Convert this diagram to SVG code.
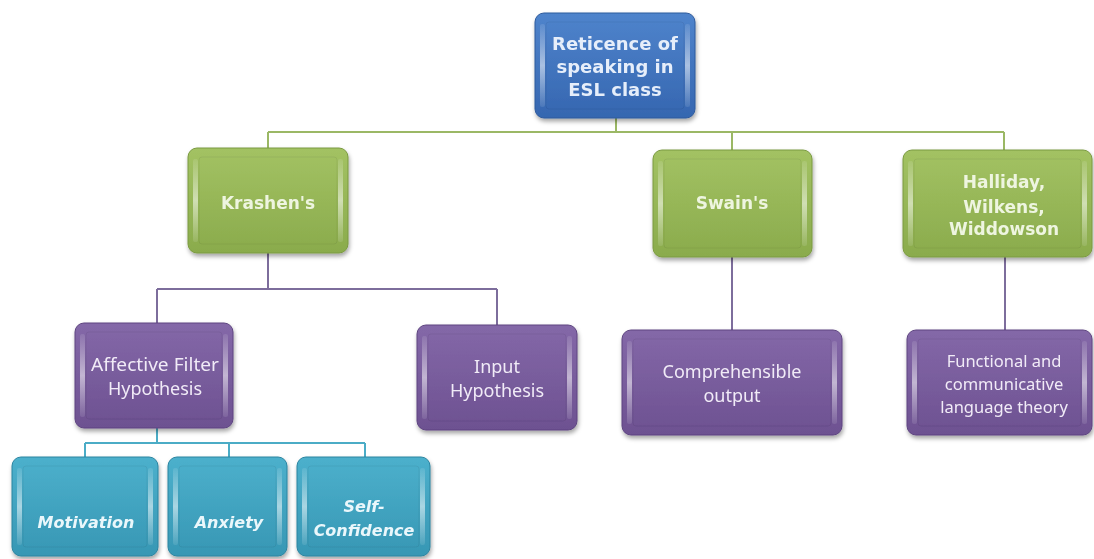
<svg xmlns="http://www.w3.org/2000/svg" width="1094" height="559" viewBox="0 0 1094 559">
<defs>
<linearGradient id="gBlue" x1="0" y1="0" x2="0" y2="1"><stop offset="0" stop-color="#4f84cc"/><stop offset="1" stop-color="#3566b0"/></linearGradient>
<linearGradient id="gGreen" x1="0" y1="0" x2="0" y2="1"><stop offset="0" stop-color="#a3c263"/><stop offset="1" stop-color="#8aab4c"/></linearGradient>
<linearGradient id="gPurple" x1="0" y1="0" x2="0" y2="1"><stop offset="0" stop-color="#8468a8"/><stop offset="1" stop-color="#6d5191"/></linearGradient>
<linearGradient id="gCyan" x1="0" y1="0" x2="0" y2="1"><stop offset="0" stop-color="#4cb0cc"/><stop offset="1" stop-color="#3797b4"/></linearGradient>
<linearGradient id="hl" x1="0" y1="0" x2="0" y2="1"><stop offset="0" stop-color="#fff" stop-opacity="0.1"/><stop offset="0.5" stop-color="#fff" stop-opacity="0.55"/><stop offset="1" stop-color="#fff" stop-opacity="0.1"/></linearGradient>
<filter id="sh" x="-10%" y="-10%" width="120%" height="130%"><feDropShadow dx="1" dy="3" stdDeviation="2" flood-color="#000" flood-opacity="0.35"/></filter>
<style>
.box{filter:url(#sh);}
.blue{fill:url(#gBlue);stroke:#2e5a9c;stroke-width:1}
.green{fill:url(#gGreen);stroke:#7a9a40;stroke-width:1}
.purple{fill:url(#gPurple);stroke:#5e4580;stroke-width:1}
.cyan{fill:url(#gCyan);stroke:#2b84a0;stroke-width:1}
.bev{fill:url(#hl)}
.inner{fill:none;stroke:#000;stroke-opacity:0.06;stroke-width:1}
.head{font-family:"DejaVu Sans",sans-serif;font-weight:bold;font-size:17px;fill:#eef5e0;text-anchor:middle}
.headb{font-family:"DejaVu Sans",sans-serif;font-weight:bold;font-size:18px;fill:#e6eefa;text-anchor:middle}
.sub{font-family:"Noto Sans",sans-serif;font-size:18px;fill:#f1ebf7;text-anchor:middle}
.sm{font-size:16.5px}
.it{font-family:"DejaVu Sans",sans-serif;font-weight:bold;font-style:italic;font-size:16px;fill:#eaf7fb;text-anchor:middle}
.cg{stroke:#9bb865;stroke-width:2;fill:none}
.cp{stroke:#7d6d9c;stroke-width:2;fill:none}
.cc{stroke:#4bacc6;stroke-width:2;fill:none}
</style>
</defs>
<rect width="1094" height="559" fill="#ffffff"/>
<g id="connectors">
<path class="cg" d="M616 118V132M268 132H1004M268 132V148M732 132V150M1004 132V150"/>
<path class="cp" d="M268 253V289M157 289H497M157 289V323M497 289V325M732 257V330M1005 257V330"/>
<path class="cc" d="M157 428V443M85 443H365M85 443V457M229 443V457M365 443V457"/>
</g>
<g id="root" class="box">
<rect class="blue" x="535" y="13" width="160" height="105" rx="9"/>
<rect class="inner" x="546" y="22" width="138" height="87" rx="3"/>
<rect class="bev" x="540" y="24" width="5" height="83" rx="2"/>
<rect class="bev" x="685" y="24" width="5" height="83" rx="2"/>
<text class="headb" x="615" y="50">Reticence of</text>
<text class="headb" x="615" y="73">speaking in</text>
<text class="headb" x="615" y="96">ESL class</text>
</g>
<g id="krashen" class="box">
<rect class="green" x="188" y="148" width="160" height="105" rx="9"/>
<rect class="inner" x="199" y="157" width="138" height="87" rx="3"/>
<rect class="bev" x="193" y="159" width="5" height="83" rx="2"/>
<rect class="bev" x="338" y="159" width="5" height="83" rx="2"/>
<text class="head" x="268" y="209">Krashen's</text>
</g>
<g id="swain" class="box">
<rect class="green" x="653" y="150" width="159" height="107" rx="9"/>
<rect class="inner" x="664" y="159" width="137" height="89" rx="3"/>
<rect class="bev" x="658" y="161" width="5" height="85" rx="2"/>
<rect class="bev" x="802" y="161" width="5" height="85" rx="2"/>
<text class="head" x="732" y="209">Swain's</text>
</g>
<g id="halliday" class="box">
<rect class="green" x="903" y="150" width="189" height="107" rx="9"/>
<rect class="inner" x="914" y="159" width="167" height="89" rx="3"/>
<rect class="bev" x="908" y="161" width="5" height="85" rx="2"/>
<rect class="bev" x="1082" y="161" width="5" height="85" rx="2"/>
<text class="head" x="1004" y="188">Halliday,</text>
<text class="head" x="1004" y="213">Wilkens,</text>
<text class="head" x="1004" y="235">Widdowson</text>
</g>
<g id="affective" class="box">
<rect class="purple" x="75" y="323" width="158" height="105" rx="9"/>
<rect class="inner" x="86" y="332" width="136" height="87" rx="3"/>
<rect class="bev" x="80" y="334" width="5" height="83" rx="2"/>
<rect class="bev" x="223" y="334" width="5" height="83" rx="2"/>
<text class="sub" x="155" y="371" textLength="128" lengthAdjust="spacingAndGlyphs">Affective Filter</text>
<text class="sub" x="155" y="395">Hypothesis</text>
</g>
<g id="input" class="box">
<rect class="purple" x="417" y="325" width="160" height="105" rx="9"/>
<rect class="inner" x="428" y="334" width="138" height="87" rx="3"/>
<rect class="bev" x="422" y="336" width="5" height="83" rx="2"/>
<rect class="bev" x="567" y="336" width="5" height="83" rx="2"/>
<text class="sub" x="497" y="373">Input</text>
<text class="sub" x="497" y="397">Hypothesis</text>
</g>
<g id="comprehensible" class="box">
<rect class="purple" x="622" y="330" width="220" height="105" rx="9"/>
<rect class="inner" x="633" y="339" width="198" height="87" rx="3"/>
<rect class="bev" x="627" y="341" width="5" height="83" rx="2"/>
<rect class="bev" x="832" y="341" width="5" height="83" rx="2"/>
<text class="sub" x="732" y="378">Comprehensible</text>
<text class="sub" x="732" y="402">output</text>
</g>
<g id="functional" class="box">
<rect class="purple" x="907" y="330" width="185" height="105" rx="9"/>
<rect class="inner" x="918" y="339" width="163" height="87" rx="3"/>
<rect class="bev" x="912" y="341" width="5" height="83" rx="2"/>
<rect class="bev" x="1082" y="341" width="5" height="83" rx="2"/>
<text class="sub sm" x="1004" y="367">Functional and</text>
<text class="sub sm" x="1004" y="390">communicative</text>
<text class="sub sm" x="1004" y="413">language theory</text>
</g>
<g id="motivation" class="box">
<rect class="cyan" x="12" y="457" width="146" height="99" rx="9"/>
<rect class="inner" x="23" y="466" width="124" height="81" rx="3"/>
<rect class="bev" x="17" y="468" width="5" height="77" rx="2"/>
<rect class="bev" x="148" y="468" width="5" height="77" rx="2"/>
<text class="it" x="86" y="528">Motivation</text>
</g>
<g id="anxiety" class="box">
<rect class="cyan" x="168" y="457" width="119" height="99" rx="9"/>
<rect class="inner" x="179" y="466" width="97" height="81" rx="3"/>
<rect class="bev" x="173" y="468" width="5" height="77" rx="2"/>
<rect class="bev" x="277" y="468" width="5" height="77" rx="2"/>
<text class="it" x="229" y="528">Anxiety</text>
</g>
<g id="selfconfidence" class="box">
<rect class="cyan" x="297" y="457" width="133" height="99" rx="9"/>
<rect class="inner" x="308" y="466" width="111" height="81" rx="3"/>
<rect class="bev" x="302" y="468" width="5" height="77" rx="2"/>
<rect class="bev" x="420" y="468" width="5" height="77" rx="2"/>
<text class="it" x="364" y="512">Self-</text>
<text class="it" x="364" y="536">Confidence</text>
</g>
</svg>
